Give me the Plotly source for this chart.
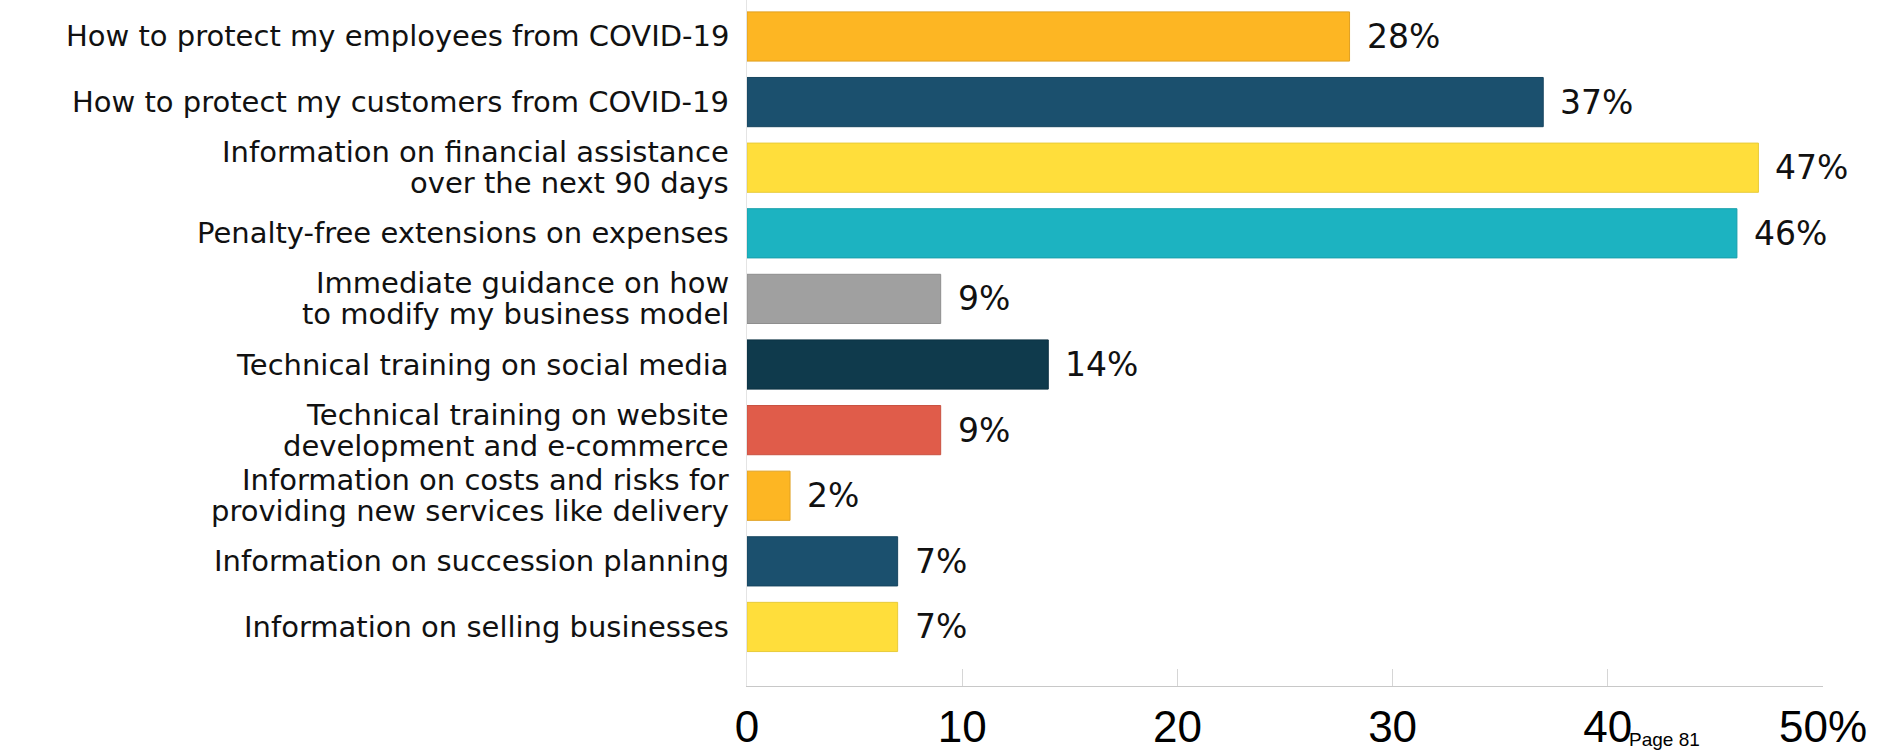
import plotly.graph_objects as go

# Survey responses: share of businesses wanting each type of support
categories = [
    "How to protect my employees from COVID-19",
    "How to protect my customers from COVID-19",
    "Information on financial assistance\nover the next 90 days",
    "Penalty-free extensions on expenses",
    "Immediate guidance on how\nto modify my business model",
    "Technical training on social media",
    "Technical training on website\ndevelopment and e-commerce",
    "Information on costs and risks for\nproviding new services like delivery",
    "Information on succession planning",
    "Information on selling businesses",
]
values = [28, 37, 47, 46, 9, 14, 9, 2, 7, 7]
bar_colors = [
    "#FDB623", "#1B506E", "#FFDE3B", "#1CB3C1", "#A0A0A0",
    "#0F3A4C", "#E05C4A", "#FDB623", "#1B506E", "#FFDE3B",
]
edge_colors = [
    "#E0A020", "#17455F", "#E8CB3A", "#189FAB", "#8E8E8E",
    "#0C3142", "#C95141", "#E0A020", "#17455F", "#E8CB3A",
]
tick_vals = [0, 10, 20, 30, 40, 50]
tick_text = ["0", "10", "20", "30", "40", "50%"]

keys = [c.replace("\n", " ") for c in categories]

fig = go.Figure(
    go.Bar(
        x=values,
        y=keys,
        orientation="h",
        marker=dict(color=bar_colors, line=dict(color=edge_colors, width=1)),
        width=0.75,
        hoverinfo="skip",
    )
)

label_font = dict(family="DejaVu Sans", size=29, color="#111111")
value_font = dict(family="DejaVu Sans", size=33, color="#111111")
line_step = 31

annotations = []
for key, label, v in zip(keys, categories, values):
    lines = label.split("\n")
    n = len(lines)
    for j, line in enumerate(lines):
        annotations.append(dict(
            x=0, y=key, xref="x", yref="y",
            text=line, showarrow=False,
            xanchor="right", yanchor="middle",
            xshift=-16, yshift=(n - 1) / 2 * line_step - j * line_step,
            font=label_font,
        ))
    annotations.append(dict(
        x=v, y=key, xref="x", yref="y",
        text=f"{v}%", showarrow=False,
        xanchor="left", yanchor="middle", xshift=15,
        font=value_font,
    ))

annotations.append(dict(
    x=0.818, y=-0.078, xref="paper", yref="paper",
    text="Page 81", showarrow=False,
    xanchor="left", yanchor="middle",
    font=dict(family="Liberation Sans", size=19, color="#000000"),
))

fig.update_layout(
    width=1877, height=753,
    margin=dict(l=747, r=54, t=0, b=67, autoexpand=False),
    paper_bgcolor="white", plot_bgcolor="white",
    showlegend=False,
    annotations=annotations,
    xaxis=dict(
        range=[0, 50],
        tickvals=tick_vals, ticktext=tick_text,
        showgrid=False, zeroline=False,
        showline=True, linecolor="#C8C8C8", linewidth=1,
        ticks="inside", ticklen=17, tickcolor="#D6D6D6", tickwidth=1,
        tickfont=dict(family="Liberation Sans", size=44, color="#000000"),
        ticklabelstandoff=2,
        automargin=False,
    ),
    yaxis=dict(
        type="category",
        categoryorder="array", categoryarray=keys,
        range=[9.9, -0.556],
        showticklabels=False, showgrid=False, zeroline=False,
        showline=True, linecolor="#E4E4E4", linewidth=1,
        ticks="", automargin=False,
    ),
)

fig.write_html("out.html")
